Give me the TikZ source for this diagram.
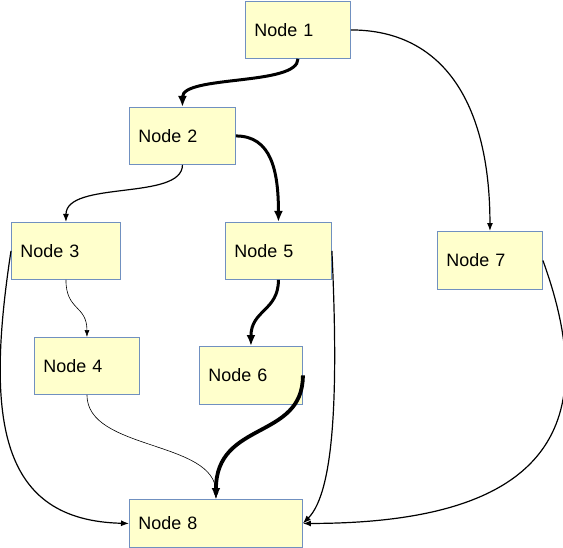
\documentclass[tikz,border=0pt]{standalone}
\usepackage{fontspec}
\setmainfont{Liberation Sans}
\usetikzlibrary{arrows.meta}
\definecolor{boxfill}{RGB}{255,255,204}
\definecolor{boxline}{RGB}{112,144,192}

\begin{document}
\begin{tikzpicture}[x=1bp,y=-1bp,
	box/.style={draw=boxline,line width=0.9bp,fill=boxfill,anchor=north west,
		inner xsep=9bp,align=left,text width=#1,minimum height=57bp,
		font=\fontsize{18}{22}\selectfont},
	box/.default=87bp,
	heavy/.style={line width=3bp,-{Latex[length=11bp,width=9bp]}},
	mid/.style={line width=1.2bp,-{Latex[length=8bp,width=6bp]}},
	fine/.style={line width=0.6bp,-{Latex[length=7bp,width=5bp]}}]
	%		\draw [thin,densely dashed](0,0)grid[step=50](563,548);
	\useasboundingbox (0,0) rectangle (563,548);
	\node[box] (n1) at (245,1) {Node 1};
	\node[box=88bp] (n2) at (129,107) {Node 2};
	\node[box=91bp] (n3) at (11,222) {Node 3};
	\node[box] (n4) at (34,337) {Node 4};
	\node[box=88bp] (n5) at (225,222) {Node 5};
	\node[box=85bp,minimum height=58bp] (n6) at (199,346) {Node 6};
	\node[box,minimum height=58bp] (n7) at (437,231) {Node 7};
	\node[box=155bp,minimum height=48bp] (n8) at (129,499) {Node 8};
	
	\draw[heavy] (n1.south) .. controls +(0,27) and +(0,-32) .. (n2.north);
	\draw[mid] (n1.east) .. controls +(90,0) and +(0,-131) .. (n7.north);
	\draw[heavy] (n2.east) .. controls +(35,0) and +(0,-52) .. (n5.north);
	\draw[mid] (n2.south) .. controls +(0,36) and +(0,-42) .. (n3.north);
	\draw[fine] (n3.south) .. controls +(0,31) and +(0,-32) .. (n4.north);
	\draw[mid] (n3.west) .. controls +(-26,170) and +(-129,-3) .. (n8.west);
	\draw[heavy] (n5.south) .. controls +(0,31) and +(0,-36) .. (n6.north);
	\draw[mid] (n5.east) .. controls +(6,130) and +(33,-33) .. (n8.east);
	\draw[heavy,line width=3.8bp] (n6.east) .. controls +(0,65) and +(0,-79) .. (n8.north);
	\draw[fine] (n4.south) .. controls +(0,56) and +(0,-59) .. (n8.north);
	\draw[mid] (n7.east) .. controls +(58,160) and +(253,0) .. (n8.east);
	
\end{tikzpicture}
\end{document}
